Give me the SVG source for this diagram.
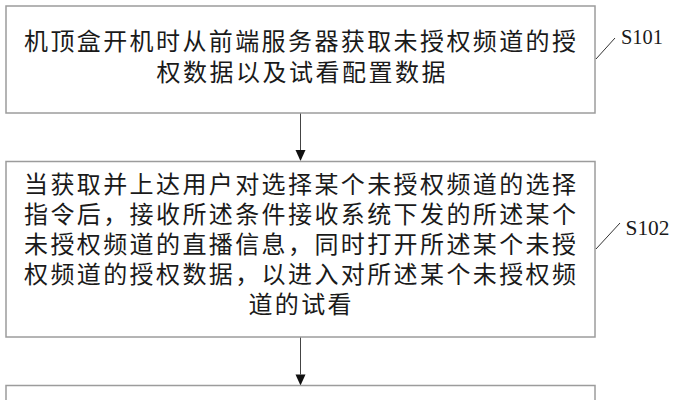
<svg xmlns="http://www.w3.org/2000/svg" width="676" height="400" viewBox="0 0 676 400">
<style>
.box{fill:#ffffff;stroke:#9c9c9c;stroke-width:1.5}
.t{font-family:"Liberation Serif","Noto Sans CJK SC","Noto Sans CJK JP",serif;font-size:24px;fill:#1a1a1a;text-anchor:middle}
.lbl{font-family:"Liberation Serif",serif;font-size:22px;fill:#1a1a1a}
.conn{stroke:#444;stroke-width:1;fill:none}
.lead{stroke:#333;stroke-width:1;fill:none}
</style>
<rect width="676" height="400" fill="#ffffff"/>
<g id="connectors">
<line class="conn" x1="300.5" y1="113" x2="300.5" y2="150"/>
<path d="M295.5,150 L305.5,150 L300.5,161 Z" fill="#111"/>
<line class="conn" x1="300.5" y1="337" x2="300.5" y2="374.5"/>
<path d="M295.5,374.5 L305.5,374.5 L300.5,385.5 Z" fill="#111"/>
</g>
<g id="S101">
<rect class="box" x="6" y="6" width="589" height="107"/>
<text class="t" x="300" y="49.5" textLength="552" lengthAdjust="spacing">机顶盒开机时从前端服务器获取未授权频道的授</text>
<text class="t" x="301" y="81" textLength="289" lengthAdjust="spacing">权数据以及试看配置数据</text>
<line class="lead" x1="596" y1="59" x2="615" y2="38"/>
<text class="lbl" x="621" y="44" textLength="42" lengthAdjust="spacingAndGlyphs">S101</text>
</g>
<g id="S102">
<rect class="box" x="6" y="161.5" width="589" height="175.5"/>
<text class="t" x="300" y="192.5" textLength="552" lengthAdjust="spacing">当获取并上达用户对选择某个未授权频道的选择</text>
<text class="t" x="300" y="222.5" textLength="552" lengthAdjust="spacing">指令后，接收所述条件接收系统下发的所述某个</text>
<text class="t" x="300" y="252.5" textLength="552" lengthAdjust="spacing">未授权频道的直播信息，同时打开所述某个未授</text>
<text class="t" x="300" y="282.5" textLength="552" lengthAdjust="spacing">权频道的授权数据，以进入对所述某个未授权频</text>
<text class="t" x="300" y="312.5" textLength="103" lengthAdjust="spacing">道的试看</text>
<line class="lead" x1="596" y1="249" x2="620" y2="223"/>
<text class="lbl" x="625.5" y="235" textLength="44" lengthAdjust="spacingAndGlyphs">S102</text>
</g>
<g id="S103">
<rect class="box" x="6" y="385.5" width="589" height="30"/>
</g>
</svg>
